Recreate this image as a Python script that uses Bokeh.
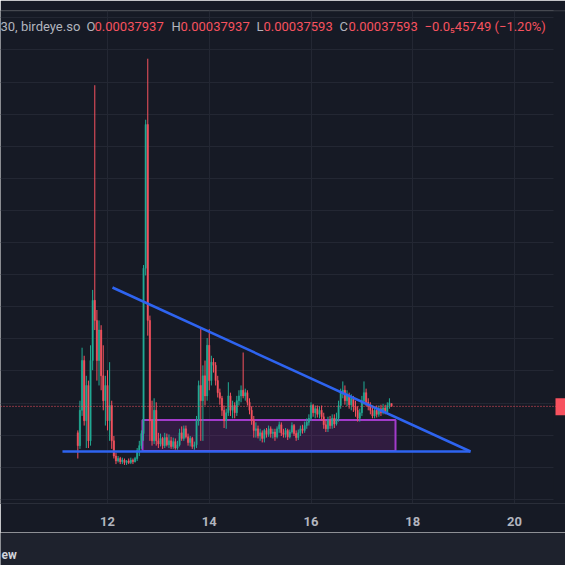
import numpy as np
from bokeh.plotting import figure
from bokeh.models import ColumnDataSource, FixedTicker, Range1d, Span
from bokeh.layouts import column
from bokeh.embed import file_html
from bokeh.resources import INLINE
from bokeh.core.properties import value

# ---------------- data (prices in micro-units: 1e-6) ----------------
PRICE_UNIT = 1e-6
opens_u = [343, 327, 371, 433, 358, 402, 333, 433, 508, 483, 433, 471, 414, 383, 402, 358, 377, 333, 314, 308,
           311, 307, 309, 306, 308, 306, 309, 307, 311, 321, 327, 342, 548, 727, 483, 358, 333, 371, 333, 329,
           336, 327, 337, 328, 333, 326, 332, 324, 328, 343, 336, 348, 338, 331, 336, 326, 328, 358, 402, 383,
           414, 389, 452, 408, 431, 427, 408, 393, 386, 371, 358, 368, 389, 371, 377, 368, 383, 389, 396, 389,
           393, 381, 371, 358, 346, 348, 339, 343, 336, 346, 341, 348, 342, 344, 338, 348, 353, 343, 341, 346,
           338, 344, 352, 342, 337, 343, 348, 346, 352, 356, 361, 377, 368, 373, 366, 371, 363, 353, 348, 358,
           352, 361, 354, 361, 377, 393, 396, 383, 389, 378, 386, 376, 371, 361, 368, 383, 393, 381, 376, 371,
           364, 371, 366, 373, 368, 374, 369, 377, 379.37]
highs_u = [346, 383, 449, 439, 414, 408, 452, 521, 776, 496, 483, 477, 452, 414, 421, 431, 383, 339, 318, 314,
           313, 312, 311, 309, 311, 312, 311, 313, 324, 333, 346, 552, 733, 809, 489, 383, 386, 381, 343, 342,
           338, 343, 342, 341, 338, 337, 336, 333, 348, 351, 352, 352, 342, 339, 338, 332, 364, 408, 473, 427,
           433, 461, 472, 439, 436, 431, 414, 398, 389, 377, 373, 406, 393, 383, 381, 389, 396, 402, 443, 398,
           396, 386, 376, 364, 356, 352, 348, 346, 348, 349, 352, 351, 348, 348, 351, 357, 356, 348, 349, 348,
           347, 356, 354, 346, 347, 352, 353, 357, 361, 366, 381, 379, 377, 377, 376, 377, 368, 358, 363, 364,
           366, 366, 368, 383, 398, 407, 402, 396, 393, 391, 389, 383, 376, 373, 389, 407, 398, 386, 381, 376,
           376, 377, 377, 378, 379, 378, 381, 386, 379.37]
lows_u = [311, 323, 364, 352, 324, 324, 327, 421, 471, 408, 402, 396, 371, 352, 346, 333, 323, 311, 304, 306,
          304, 304, 303, 303, 304, 304, 304, 306, 308, 314, 323, 333, 539, 464, 333, 327, 329, 327, 324, 326,
          323, 324, 326, 324, 323, 323, 322, 322, 326, 333, 333, 336, 327, 326, 323, 322, 324, 352, 333, 333,
          377, 383, 396, 402, 418, 402, 387, 378, 364, 349, 348, 364, 364, 361, 361, 364, 377, 381, 386, 383,
          377, 366, 353, 337, 337, 336, 333, 331, 331, 337, 338, 337, 336, 333, 336, 343, 339, 337, 337, 334,
          336, 342, 339, 333, 334, 339, 342, 343, 348, 352, 358, 363, 361, 362, 361, 358, 348, 344, 344, 348,
          348, 349, 352, 357, 373, 386, 378, 376, 373, 371, 369, 363, 357, 357, 364, 378, 376, 371, 366, 361,
          361, 362, 363, 364, 366, 366, 367, 373, 375.93]
closes_u = [327, 371, 433, 358, 402, 333, 433, 508, 483, 433, 471, 414, 383, 402, 358, 377, 333, 314, 308, 311,
            307, 309, 306, 308, 306, 309, 307, 311, 321, 327, 342, 548, 727, 483, 358, 333, 371, 333, 329, 336,
            327, 337, 328, 333, 326, 332, 324, 328, 343, 336, 348, 338, 331, 336, 326, 328, 358, 402, 383, 414,
            389, 452, 408, 431, 427, 408, 393, 386, 371, 358, 368, 389, 371, 377, 368, 383, 389, 396, 389, 393,
            381, 371, 358, 346, 348, 339, 343, 336, 346, 341, 348, 342, 344, 338, 348, 353, 343, 341, 346, 338,
            344, 352, 342, 337, 343, 348, 346, 352, 356, 361, 377, 368, 373, 366, 371, 363, 353, 348, 358, 352,
            361, 354, 361, 377, 393, 396, 383, 389, 378, 386, 376, 371, 361, 368, 383, 393, 381, 376, 371, 364,
            371, 366, 373, 368, 374, 369, 377, 380.505, 375.93]

# hourly candles starting on day 11, 10:00
start_day = 11 + 10 / 24
candle_hours = 1 / 24

# x-axis tick labels (day of month) and price grid levels
x_tick_days = [12, 14, 16, 18, 20]
grid_prices = [0.00026, 0.00030, 0.00034, 0.00038, 0.00042, 0.00046, 0.00050, 0.00054,
               0.00058, 0.00062, 0.00066, 0.00070, 0.00074, 0.00078, 0.00082, 0.00086]

# drawings (day, price)
trend_days = [12.098, 19.135]
trend_prices = [0.0005240, 0.0003197]
support_days = [11.115, 19.135]
support_prices = [0.0003197, 0.0003197]
box_days = [12.688, 17.661]
box_prices = [0.0003203, 0.0003589]

# legend header texts
header_texts = ["30, birdeye.so", "O", "0.00037937", "H", "0.00037937", "L", "0.00037593", "C",
                "0.00037593", "\u22120.0\u208545749 (\u22121.20%)"]
footer_text = "ew"

# ---------------- styling / layout ----------------
BG = "#161A25"
GRID = "#232733"
GREEN = "#22AB94"
RED = "#F7525F"
TXT = "#B2B5BE"
BLUE = "#2E64F0"
PURPLE = "#A23BCB"

W = 565
MAIN_H = 532
STRIP_H = 33
PX_PER_DAY = 50.875
X_AT_12 = 107.0
PRICE_PER_PX = 0.00004 / 32.11
Y_REF_PX = 402.6
Y_REF_PRICE = 0.00038


def px_to_day(px):
    return 12 + (px - X_AT_12) / PX_PER_DAY


def px_to_price(py):
    return Y_REF_PRICE + (Y_REF_PX - py) * PRICE_PER_PX


o = np.array(opens_u) * PRICE_UNIT
h = np.array(highs_u) * PRICE_UNIT
l = np.array(lows_u) * PRICE_UNIT
c = np.array(closes_u) * PRICE_UNIT
n = len(o)
t = start_day + np.arange(n) * candle_hours
colors = [GREEN if cc >= oo else RED for oo, cc in zip(o, c)]

src = ColumnDataSource(dict(t=t, o=o, h=h, l=l, c=c,
                            top=np.maximum(o, c), bottom=np.minimum(o, c), color=colors))

p = figure(width=W, height=MAIN_H,
           x_range=Range1d(px_to_day(0), px_to_day(W)),
           y_range=Range1d(px_to_price(503), px_to_price(10)),
           toolbar_location=None, output_backend="svg", y_axis_location=None,
           min_border_left=0, min_border_right=0, min_border_top=10, min_border_bottom=29,
           background_fill_color=BG, border_fill_color=BG, outline_line_color=None)

p.xaxis.ticker = FixedTicker(ticks=x_tick_days)
p.xaxis.axis_line_color = "#2A2E39"
p.xaxis.major_tick_line_color = None
p.xaxis.minor_tick_line_color = None
p.xaxis.major_label_text_color = TXT
p.xaxis.major_label_text_font = "Roboto"
p.xaxis.major_label_text_font_size = "13px"
p.xaxis.major_label_text_font_style = "bold"
p.xaxis.major_label_standoff = 7

p.xgrid.ticker = FixedTicker(ticks=x_tick_days)
p.xgrid.grid_line_color = GRID
p.ygrid.ticker = FixedTicker(ticks=grid_prices)
p.ygrid.grid_line_color = GRID

# mask the price-scale strip on the right
p.quad(left=px_to_day(553), right=px_to_day(W) + 1, bottom=px_to_price(600), top=px_to_price(-50),
       fill_color=BG, line_color=None)

# top border of the pane
p.add_layout(Span(location=px_to_price(10.5), dimension="width", line_color="#2A2E39", line_width=1))

# purple range box
p.quad(left=box_days[0], right=box_days[1], bottom=box_prices[0], top=box_prices[1],
       fill_color="#9C27B0", fill_alpha=0.2, line_color=PURPLE, line_width=2)

# candles
p.segment(x0="t", y0="h", x1="t", y1="l", color="color", line_width=1, source=src)
p.vbar(x="t", top="top", bottom="bottom", width=candle_hours * 0.6, fill_color="color",
       line_color="color", line_width=0.5, source=src)

# trend lines
p.line(trend_days, trend_prices, line_color=BLUE, line_width=2.5)
p.line(support_days, support_prices, line_color=BLUE, line_width=2.5)

# last price dotted line + tag
p.add_layout(Span(location=c[-1], dimension="width", line_color=RED, line_dash="1 2", line_width=1))
p.quad(left=px_to_day(555), right=px_to_day(W) + 1,
       bottom=c[-1] - 9 * PRICE_PER_PX, top=c[-1] + 8 * PRICE_PER_PX,
       fill_color=RED, line_color=None)

# header legend
header_px = [0, 86, 94, 171, 180, 256, 263, 339, 348, 424]
header_colors = [TXT, TXT, RED, TXT, RED, TXT, RED, TXT, RED, RED]
hsrc = ColumnDataSource(dict(x=[px_to_day(v) for v in header_px],
                             y=[px_to_price(26)] * len(header_texts),
                             text=header_texts, color=header_colors))
p.text(x="x", y="y", text="text", text_color="color", text_font=value("Roboto"),
       text_font_size="13px", text_baseline="middle", text_align="left", source=hsrc)

# bottom strip
p2 = figure(width=W, height=STRIP_H, x_range=Range1d(0, W), y_range=Range1d(0, STRIP_H),
            toolbar_location=None, output_backend="svg", x_axis_location=None, y_axis_location=None,
            min_border=0, background_fill_color="#1E222D", border_fill_color="#1E222D",
            outline_line_color=None)
p2.xgrid.visible = False
p2.ygrid.visible = False
p2.text(x=[1], y=[11], text=[footer_text], text_color="#D1D4DC", text_font=value("Roboto"),
        text_font_size="12px", text_font_style="bold", text_baseline="middle", text_align="left")

layout = column(p, p2, spacing=0)
open("out.html", "w").write(file_html(layout, INLINE))
